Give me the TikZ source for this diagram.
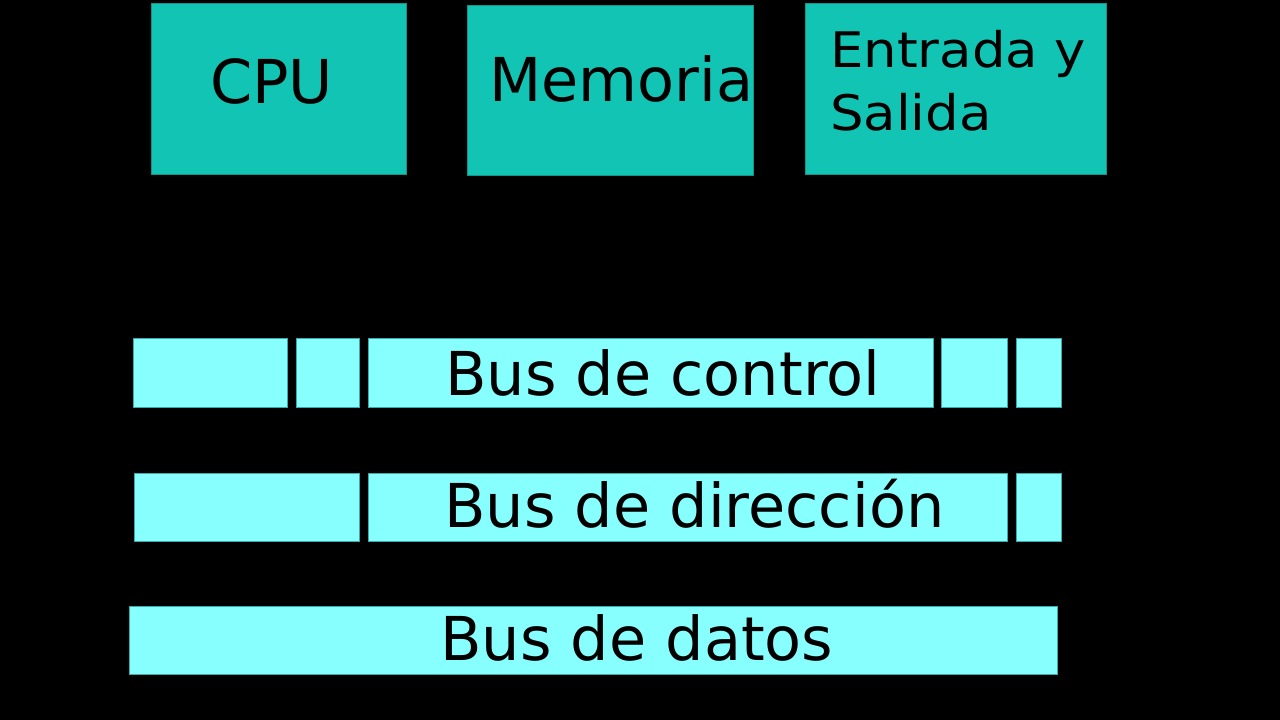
\documentclass[tikz,border=0pt]{standalone}
\usepackage{fontspec}
\setmainfont{DejaVu Sans}
\newfontfamily\widefont[FakeStretch=1.08]{DejaVu Sans}
\definecolor{unitfill}{RGB}{18,196,180}
\definecolor{unitline}{RGB}{14,150,138}
\definecolor{busfill}{RGB}{136,255,255}
\definecolor{busline}{RGB}{60,170,170}
\begin{document}
\begin{tikzpicture}[x=1pt,y=-1pt,
  unitbox/.style={fill=unitfill,draw=unitline,line width=0.8pt},
  busbox/.style={fill=busfill,draw=busline,line width=0.8pt},
  bigtxt/.style={anchor=base west,inner sep=0pt,font=\fontsize{60.5}{72}\selectfont},
  midtxt/.style={anchor=base west,inner sep=0pt,font=\widefont\fontsize{49}{58}\selectfont}]
\fill[black] (0,0) rectangle (1280,720);
\useasboundingbox (0,0) rectangle (1280,720);
% top units
\draw[unitbox] (151,3) rectangle (406,174);
\draw[unitbox] (467,5) rectangle (753,175);
\draw[unitbox] (805,3) rectangle (1106,174);
\node[bigtxt] (cpu) at (210,103) {CPU};
\node[bigtxt] (mem) at (489,101) {Memoria};
\node[midtxt] (es1) at (830,67) {Entrada y};
\node[midtxt] (es2) at (830,130) {Salida};
% bus de control
\draw[busbox] (133,338) rectangle (287,407);
\draw[busbox] (296,338) rectangle (359,407);
\draw[busbox] (368,338) rectangle (933,407);
\draw[busbox] (941,338) rectangle (1007,407);
\draw[busbox] (1016,338) rectangle (1061,407);
\node[bigtxt] (bc) at (445,395) {Bus de control};
% bus de direccion
\draw[busbox] (134,473) rectangle (359,541);
\draw[busbox] (368,473) rectangle (1007,541);
\draw[busbox] (1016,473) rectangle (1061,541);
\node[bigtxt] (bd) at (444,527) {Bus de dirección};
% bus de datos
\draw[busbox] (129,606) rectangle (1057,674);
\node[bigtxt] (bdat) at (440,660) {Bus de datos};
\end{tikzpicture}
\end{document}
